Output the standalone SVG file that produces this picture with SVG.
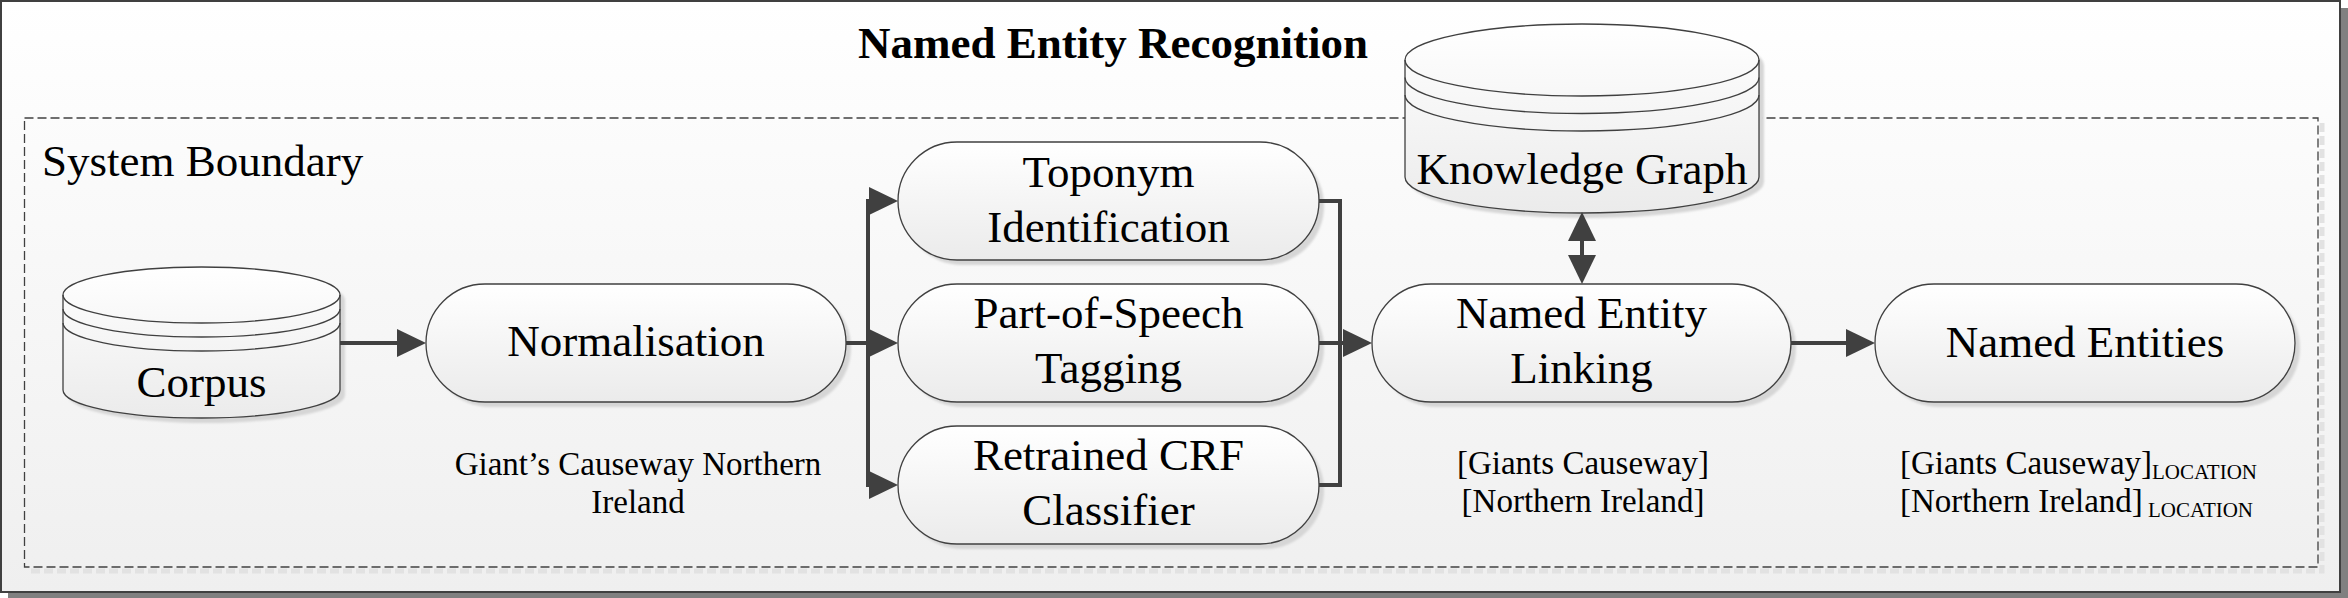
<svg xmlns="http://www.w3.org/2000/svg" width="2348" height="598" viewBox="0 0 2348 598">
<style>
.lbl{font-family:"Liberation Serif","Times New Roman",serif;font-size:45px;fill:#000;text-anchor:middle}
.cap{font-family:"Liberation Serif","Times New Roman",serif;font-size:33px;fill:#000}
.title{font-family:"Liberation Serif","Times New Roman",serif;font-size:45px;font-weight:bold;fill:#000;text-anchor:middle}
.node{fill:url(#ng);stroke:#404040;stroke-width:1.3}
.shd{fill:#d6d6d6;filter:url(#bl)}
.con{fill:none;stroke:#404040;stroke-width:4;stroke-linejoin:miter}
.sub{font-size:21px}
</style>
<defs>
<linearGradient id="bg" x1="0" y1="0" x2="0" y2="1"><stop offset="0" stop-color="#ffffff"/><stop offset="1" stop-color="#efefef"/></linearGradient>
<linearGradient id="ng" x1="0" y1="0" x2="0" y2="1"><stop offset="0" stop-color="#ffffff"/><stop offset="1" stop-color="#ebebeb"/></linearGradient>
<filter id="bl" x="-5%" y="-5%" width="110%" height="110%"><feGaussianBlur stdDeviation="1.2"/></filter>
<marker id="arr" markerUnits="userSpaceOnUse" markerWidth="30" markerHeight="30" refX="19" refY="14" orient="auto-start-reverse"><path d="M0,0 L29,14 L0,28 Z" fill="#404040"/></marker>
</defs>

<g id="frame">
<rect x="8" y="8" width="2340" height="590" fill="#808080"/>
<rect x="1" y="1" width="2339" height="591" fill="url(#bg)" stroke="#404040" stroke-width="2"/>
<text class="title" x="1113" y="58">Named Entity Recognition</text>
</g>

<g id="boundary">
<polyline points="2322,123 2322,571 29,571" fill="none" stroke="#e2e2e2" stroke-width="5" stroke-dasharray="9,4"/>
<rect x="24.5" y="118" width="2293.5" height="449" fill="none" stroke="#404040" stroke-width="1.3" stroke-dasharray="9,4"/>
<text class="lbl" x="42" y="176" style="text-anchor:start">System Boundary</text>
</g>

<g id="corpus">
<path class="shd" transform="translate(5,5)" d="M63,295 A138.5,28 0 0 1 340,295 L340,390 A138.5,28 0 0 1 63,390 Z"/>
<path class="node" d="M63,295 A138.5,28 0 0 1 340,295 L340,390 A138.5,28 0 0 1 63,390 Z"/>
<path fill="none" stroke="#404040" stroke-width="1.3" d="M63,295 A138.5,28 0 0 0 340,295 M63,309 A138.5,28 0 0 0 340,309 M63,323 A138.5,28 0 0 0 340,323"/>
<text class="lbl" x="201.5" y="397">Corpus</text>
</g>

<g id="knowledge-graph">
<path class="shd" transform="translate(5,5)" d="M1405,60 A177,36 0 0 1 1759,60 L1759,177 A177,36 0 0 1 1405,177 Z"/>
<path class="node" d="M1405,60 A177,36 0 0 1 1759,60 L1759,177 A177,36 0 0 1 1405,177 Z"/>
<path fill="none" stroke="#404040" stroke-width="1.3" d="M1405,60 A177,36 0 0 0 1759,60 M1405,77.5 A177,36 0 0 0 1759,77.5 M1405,95 A177,36 0 0 0 1759,95"/>
<text class="lbl" x="1582" y="184">Knowledge Graph</text>
</g>

<g id="normalisation">
<rect class="shd" x="431" y="289" width="420" height="118" rx="59"/>
<rect class="node" x="426" y="284" width="420" height="118" rx="59"/>
<text class="lbl" x="636" y="356">Normalisation</text>
</g>

<g id="toponym">
<rect class="shd" x="903" y="147" width="421" height="118" rx="59"/>
<rect class="node" x="898" y="142" width="421" height="118" rx="59"/>
<text class="lbl" x="1108.5" y="187">Toponym</text>
<text class="lbl" x="1108.5" y="242">Identification</text>
</g>

<g id="pos">
<rect class="shd" x="903" y="289" width="421" height="118" rx="59"/>
<rect class="node" x="898" y="284" width="421" height="118" rx="59"/>
<text class="lbl" x="1108.5" y="328">Part-of-Speech</text>
<text class="lbl" x="1108.5" y="383">Tagging</text>
</g>

<g id="crf">
<rect class="shd" x="903" y="431" width="421" height="118" rx="59"/>
<rect class="node" x="898" y="426" width="421" height="118" rx="59"/>
<text class="lbl" x="1108.5" y="470">Retrained CRF</text>
<text class="lbl" x="1108.5" y="525">Classifier</text>
</g>

<g id="nel">
<rect class="shd" x="1377" y="289" width="419" height="118" rx="59"/>
<rect class="node" x="1372" y="284" width="419" height="118" rx="59"/>
<text class="lbl" x="1581.5" y="328">Named Entity</text>
<text class="lbl" x="1581.5" y="383">Linking</text>
</g>

<g id="named-entities">
<rect class="shd" x="1880" y="289" width="420" height="118" rx="59"/>
<rect class="node" x="1875" y="284" width="420" height="118" rx="59"/>
<text class="lbl" x="2085" y="357">Named Entities</text>
</g>

<g id="captions">
<text class="cap" x="638" y="475" text-anchor="middle">Giant’s Causeway Northern</text>
<text class="cap" x="638" y="513" text-anchor="middle">Ireland</text>
<text class="cap" x="1583" y="474" text-anchor="middle">[Giants Causeway]</text>
<text class="cap" x="1583" y="512" text-anchor="middle">[Northern Ireland]</text>
<text class="cap" x="1900" y="474">[Giants Causeway]<tspan class="sub" dy="5">LOCATION</tspan></text>
<text class="cap" x="1900" y="512">[Northern Ireland]<tspan class="sub" dy="5"> LOCATION</tspan></text>
</g>

<g id="connectors">
<path class="con" d="M340,343 H416" marker-end="url(#arr)"/>
<path class="con" d="M846,343 H888" marker-end="url(#arr)"/>
<path class="con" d="M888,201 H868 V485 H888" marker-start="url(#arr)" marker-end="url(#arr)"/>
<path class="con" d="M1319,201 H1340 V485 H1319"/>
<path class="con" d="M1319,343 H1362" marker-end="url(#arr)"/>
<path class="con" d="M1582,222 V274" marker-start="url(#arr)" marker-end="url(#arr)"/>
<path class="con" d="M1791,343 H1865" marker-end="url(#arr)"/>
</g>
</svg>
